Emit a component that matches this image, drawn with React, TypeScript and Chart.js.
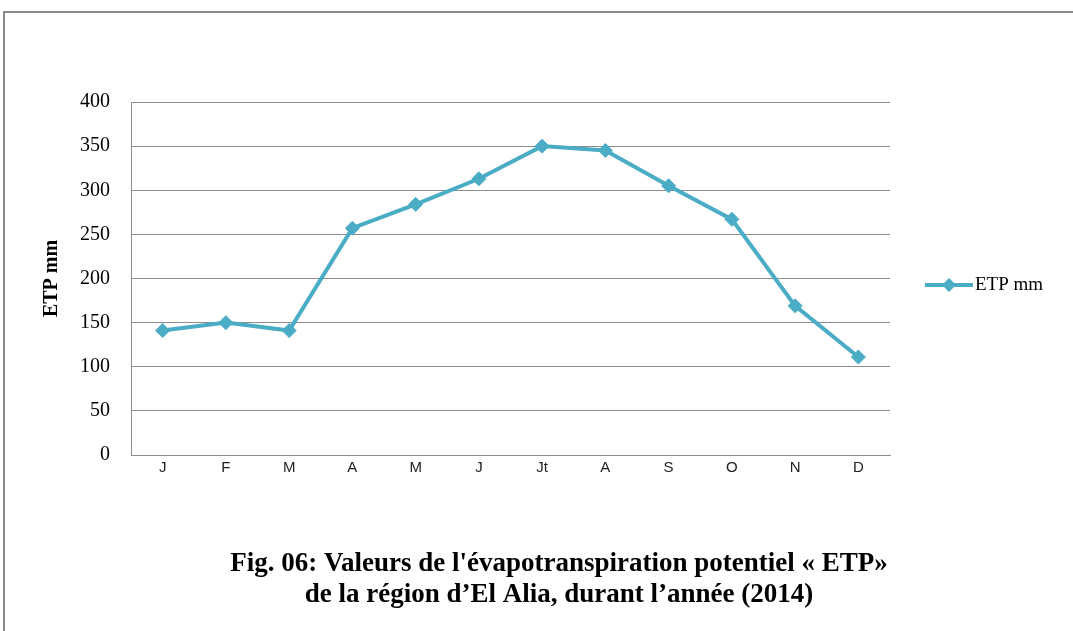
import React, { useEffect, useRef } from "react";
import { Chart, registerables } from "chart.js";

Chart.register(...registerables);

const months = ["J", "F", "M", "A", "M", "J", "Jt", "A", "S", "O", "N", "D"];
const etpValues = [141, 150, 141, 257, 284, 313, 350, 345, 305, 267, 169, 111];
const seriesLabel = "ETP mm";
const yAxisTitle = "ETP mm";
const yMin = 0;
const yMax = 400;
const yStep = 50;
const figureTitle = [
  "Fig. 06: Valeurs de l'évapotranspiration potentiel « ETP»",
  "de la région d’El Alia, durant l’année (2014)",
];

const LINE_COLOR = "#4BACC6";
const GRID_COLOR = "#8C8C8C";

const framePlugin = {
  id: "frame",
  beforeDraw(chart: any) {
    const ctx = chart.ctx;
    ctx.save();
    ctx.fillStyle = "#ffffff";
    ctx.fillRect(0, 0, chart.width, chart.height);
    ctx.strokeStyle = "#8a8a8a";
    ctx.lineWidth = 2;
    ctx.beginPath();
    ctx.moveTo(4, chart.height);
    ctx.lineTo(4, 12);
    ctx.lineTo(chart.width, 12);
    ctx.stroke();
    ctx.restore();
  },
};

const legendPlugin = {
  id: "sideLegend",
  afterDraw(chart: any) {
    const ctx = chart.ctx;
    const ds = chart.data.datasets[0];
    const y = 285;
    ctx.save();
    ctx.strokeStyle = ds.borderColor;
    ctx.lineWidth = 4;
    ctx.beginPath();
    ctx.moveTo(925, y);
    ctx.lineTo(973, y);
    ctx.stroke();
    ctx.fillStyle = ds.borderColor;
    ctx.beginPath();
    ctx.moveTo(949, y - 7);
    ctx.lineTo(956, y);
    ctx.lineTo(949, y + 7);
    ctx.lineTo(942, y);
    ctx.closePath();
    ctx.fill();
    ctx.fillStyle = "#000";
    ctx.font = "19px 'Liberation Serif'";
    ctx.textBaseline = "middle";
    ctx.textAlign = "left";
    ctx.fillText(ds.label, 975, y);
    ctx.restore();
  },
};

const titlePlugin = {
  id: "figTitle",
  afterDraw(chart: any) {
    const ctx = chart.ctx;
    ctx.save();
    ctx.fillStyle = "#000";
    ctx.font = "bold 27px 'Liberation Serif'";
    ctx.textAlign = "center";
    ctx.textBaseline = "middle";
    figureTitle.forEach((line, i) => {
      ctx.fillText(line, 559, 564 + i * 31);
    });
    ctx.restore();
  },
};

export default function App() {
  const ref = useRef<HTMLCanvasElement>(null);

  useEffect(() => {
    if (!ref.current) return;
    const chart = new Chart(ref.current, {
      type: "line",
      data: {
        labels: months,
        datasets: [
          {
            label: seriesLabel,
            data: etpValues,
            borderColor: LINE_COLOR,
            backgroundColor: LINE_COLOR,
            borderWidth: 4,
            tension: 0,
            pointStyle: "rectRot",
            pointRadius: 7,
            pointBorderWidth: 1,
            pointBackgroundColor: LINE_COLOR,
            pointBorderColor: LINE_COLOR,
          },
        ],
      },
      options: {
        animation: false,
        responsive: false,
        layout: { padding: { left: 36, right: 183, top: 102, bottom: 146 } },
        plugins: {
          legend: { display: false },
          title: { display: false },
          tooltip: { enabled: false },
        },
        scales: {
          x: {
            offset: true,
            grid: { display: false, drawTicks: false },
            border: { display: true, color: GRID_COLOR, width: 1 },
            ticks: {
              color: "#222",
              font: { family: "'Liberation Sans'", size: 15 },
              padding: 4,
            },
            afterFit(scale: any) {
              scale.height = 30;
            },
          },
          y: {
            min: yMin,
            max: yMax,
            grid: { color: GRID_COLOR, drawTicks: false, lineWidth: 1 },
            border: { display: true, color: GRID_COLOR, width: 1 },
            ticks: {
              stepSize: yStep,
              color: "#000",
              font: { family: "'Liberation Serif'", size: 20, lineHeight: 1.0 },
              padding: 21,
            },
            title: {
              display: true,
              text: yAxisTitle,
              color: "#000",
              font: { family: "'Liberation Serif'", size: 20, weight: "bold" },
            },
            afterFit(scale: any) {
              scale.width = 95;
            },
          },
        },
      },
      plugins: [framePlugin, legendPlugin, titlePlugin],
    });
    return () => chart.destroy();
  }, []);

  return (
    <div style={{ position: "fixed", left: 0, top: 0, width: 1073, height: 631, background: "#fff" }}>
      <canvas ref={ref} width={1073} height={631} style={{ display: "block" }} />
    </div>
  );
}
